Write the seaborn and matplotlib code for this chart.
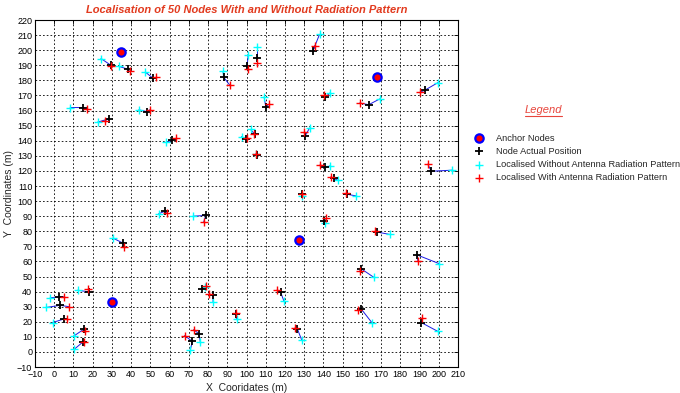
import matplotlib
matplotlib.use('Agg')
import matplotlib.pyplot as plt
import seaborn as sns
from matplotlib.lines import Line2D

# ---------------- data ----------------
anchor_x = [34.5, 167.8, 30.0, 127.5]
anchor_y = [198.5, 182.5, 33.3, 74.3]

actual_x = [29.5, 38.2, 51.4, 14.9, 28.3, 48.3, 88.2, 100.3, 105.6, 110.0,
            134.5, 141.0, 163.6, 192.6, 61.4, 104.3, 99.7, 105.6, 128.7, 57.8,
            78.8, 130.5, 141.0, 145.3, 152.5, 196.1, 140.4, 167.9, 36.0, 18.3,
            2.6, 3.1, 4.9, 15.3, 15.1, 77.0, 82.6, 94.4, 117.7, 126.4,
            71.8, 75.3, 159.6, 188.8, 159.6, 190.9]
actual_y = [190.0, 187.5, 181.4, 162.0, 154.5, 159.3, 182.0, 189.3, 195.0, 162.5,
            199.5, 168.9, 163.9, 173.4, 140.5, 144.3, 140.9, 130.7, 104.8, 93.4,
            90.5, 143.2, 122.3, 115.0, 104.5, 119.8, 87.0, 79.5, 72.0, 39.8,
            36.6, 30.9, 21.8, 15.0, 6.8, 41.6, 37.5, 25.5, 39.8, 15.5,
            7.0, 12.0, 55.2, 64.3, 28.6, 19.5]

without_x = [24.3, 33.5, 47.4, 8.3, 22.5, 44.0, 87.8, 100.9, 105.6, 109.2,
             138.0, 143.6, 169.3, 199.7, 58.3, 102.1, 97.4, 104.9, 128.7, 54.3,
             72.2, 132.8, 143.6, 147.4, 157.1, 207.0, 141.0, 174.5, 30.5, 12.2,
             -2.1, -4.3, -0.9, 10.1, 10.4, 78.3, 82.6, 94.8, 119.5, 128.7,
             70.8, 76.0, 166.2, 200.1, 165.3, 199.6]
without_y = [194.5, 189.3, 185.5, 162.0, 152.3, 160.5, 185.9, 196.8, 202.3, 168.9,
             210.5, 171.8, 167.7, 178.6, 138.9, 147.5, 142.7, 131.4, 103.5, 91.6,
             90.0, 148.4, 123.4, 113.9, 103.4, 120.5, 85.2, 77.9, 75.5, 40.9,
             35.9, 29.5, 19.5, 10.5, 1.8, 43.2, 33.2, 21.8, 33.6, 8.0,
             1.4, 6.4, 49.5, 58.6, 19.3, 13.6]

with_x = [29.5, 39.2, 53.0, 17.0, 26.5, 49.7, 91.3, 101.0, 105.6, 111.8,
          135.7, 140.4, 158.9, 190.5, 63.5, 104.0, 100.3, 105.0, 129.0, 58.7,
          77.7, 130.0, 138.3, 143.9, 151.9, 194.3, 141.5, 167.0, 36.5, 17.7,
          5.2, 7.8, 6.6, 16.0, 15.3, 79.1, 80.5, 94.4, 115.7, 125.2,
          67.8, 72.5, 158.9, 189.1, 157.8, 191.4]
with_y = [189.3, 186.0, 182.0, 161.0, 153.4, 160.5, 176.8, 187.7, 191.6, 164.3,
          203.0, 170.0, 165.0, 172.3, 141.6, 144.8, 141.6, 131.0, 104.5, 92.3,
          86.0, 145.5, 124.1, 116.1, 105.2, 124.5, 88.6, 80.2, 69.5, 41.6,
          36.6, 30.0, 21.8, 13.9, 6.4, 43.9, 38.6, 26.1, 40.9, 15.9,
          10.9, 14.8, 53.6, 60.5, 28.0, 22.7]

x_ticks = list(range(-10, 211, 10))
y_ticks = list(range(-10, 221, 10))

title_text = "Localisation of 50 Nodes With and Without Radiation Pattern"
legend_labels = ["Anchor Nodes", "Node Actual Position",
                 "Localised Without Antenna Radiation Pattern",
                 "Localised With Antenna Radiation Pattern"]

# ---------------- style ----------------
sns.set_style('white')
plt.rcParams['font.family'] = ['Liberation Sans', 'DejaVu Sans']

fig = plt.figure(figsize=(6.8, 3.93), dpi=100)
ax = fig.add_axes([0.0515, 0.066, 0.622, 0.883])

# connecting lines
for i in range(len(actual_x)):
    ax.plot([without_x[i], actual_x[i], with_x[i]],
            [without_y[i], actual_y[i], with_y[i]],
            color='#1a1ae6', lw=0.7, zorder=2)

sns.scatterplot(x=anchor_x, y=anchor_y, ax=ax, marker='o', s=36,
                color='red', edgecolor='blue', linewidth=1.6, zorder=6,
                label=legend_labels[0])
sns.scatterplot(x=actual_x, y=actual_y, ax=ax, marker='+', s=26,
                color='black', linewidth=1.3, zorder=4,
                label=legend_labels[1])
sns.scatterplot(x=without_x, y=without_y, ax=ax, marker='+', s=26,
                color='cyan', linewidth=1.0, zorder=3,
                label=legend_labels[2])
sns.scatterplot(x=with_x, y=with_y, ax=ax, marker='+', s=26,
                color='red', linewidth=1.0, zorder=5,
                label=legend_labels[3])

ax.set_xlim(-10, 210)
ax.set_ylim(-10, 220)
ax.set_xticks(x_ticks)
ax.set_yticks(y_ticks)
ax.tick_params(direction='in', top=True, right=True, length=3, width=0.6,
               labelsize=6.5, pad=2, colors='black')
ax.grid(True, color='black', linestyle=(0, (2, 2.5)), linewidth=0.6)
for sp in ax.spines.values():
    sp.set_color('black')
    sp.set_linewidth(0.8)

ax.set_xlabel("X  Cooridates (m)", fontsize=7.5, labelpad=3)
ax.set_ylabel("Y  Coordinates (m)", fontsize=7.5, labelpad=2)
ax.set_title(title_text, fontsize=8, fontweight='bold', fontstyle='italic',
             color='#e23a1e', pad=5)

leg = ax.legend(loc='upper left', bbox_to_anchor=(0.698, 0.66),
                bbox_transform=fig.transFigure, frameon=False, fontsize=6.7,
                handlelength=1.0, handletextpad=1.3, borderpad=0,
                borderaxespad=0, labelspacing=0.45)

fig.text(0.799, 0.72, "Legend", fontsize=8, fontstyle='italic',
         color='#e8453c', ha='center', va='center')
fig.add_artist(Line2D([0.772, 0.826], [0.704, 0.704],
                      transform=fig.transFigure, color='#e8453c', lw=0.8))

fig.savefig('out.png', dpi=100)
